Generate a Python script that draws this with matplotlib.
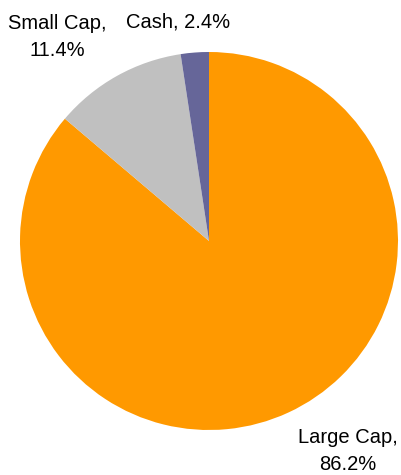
import matplotlib.pyplot as plt

# Datos del grafico
labels = ['Large Cap', 'Small Cap', 'Cash']
values = [86.2, 11.4, 2.4]
colors = ['#FF9900', '#C0C0C0', '#666699']
# posiciones de las etiquetas (coordenadas del eje)
label_pos = [(0.735, -1.11), (-0.804, 1.08), (-0.164, 1.157)]

plt.rcParams['font.family'] = ['Liberation Sans', 'DejaVu Sans']

fig = plt.figure(figsize=(4.02, 4.75), dpi=100)
ax = fig.add_axes([20 / 402, 45 / 475, 378 / 402, 378 / 475])

wedges, _ = ax.pie(values, colors=colors, startangle=90, counterclock=False,
                   radius=1, wedgeprops={'linewidth': 0})

for lab, val, (x, y) in zip(labels, values, label_pos):
    if lab == 'Cash':
        txt = f'{lab}, {val}%'
    else:
        txt = f'{lab},\n{val}%'
    ax.text(x, y, txt, ha='center', va='center', fontsize=14.5,
            linespacing=1.5, color='black', clip_on=False)

ax.set_xlim(-1, 1)
ax.set_ylim(-1, 1)
ax.set_aspect('equal')
ax.axis('off')

fig.savefig('out.png', dpi=100)
